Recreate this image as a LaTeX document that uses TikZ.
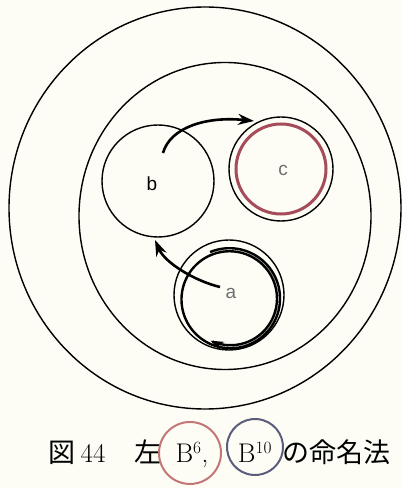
\documentclass[tikz,border=0pt]{standalone}
\usepackage{fontspec}
\setsansfont{Liberation Sans}
\newfontfamily\jpfont{Noto Sans CJK JP}
\usetikzlibrary{arrows.meta, shapes.geometric}

\definecolor{paper}{RGB}{253,253,246}
\definecolor{rosepen}{RGB}{165,75,90}
\definecolor{capred}{RGB}{195,118,118}
\definecolor{capblue}{RGB}{92,92,125}
\definecolor{lightlabel}{RGB}{110,110,110}

\begin{document}
\begin{tikzpicture}[x=1pt, y=1pt,
	ring/.style={draw, line width=1.4pt, inner sep=0pt},
	letter/.style={font=\sffamily\fontsize{19}{21}\selectfont, inner sep=0pt},
	thickarrow/.style={line width=2.6pt, -{Stealth[length=16pt, width=11pt]}},
	caption/.style={font=\fontsize{27}{30}\selectfont, inner sep=0pt, anchor=base}
]
	% Page
	\fill[paper] (0, 0) rectangle (402, 488);
	\useasboundingbox (0, 0) rectangle (402, 488);

	% Nested rings
	\node[ring, ellipse, minimum width=392, minimum height=402] (outer) at (205, 280) {};
	\node[ring, ellipse, minimum width=292, minimum height=307] (inner) at (225, 272) {};

	% Atoms a, b, c
	\node[ring, circle, minimum size=112] (b) at (158, 307) {};
	\node[ring, circle, minimum size=104] (c) at (281, 319) {};
	\node[ring, circle, minimum size=110] (a) at (229, 193) {};
	\draw[rosepen, line width=3pt] (c.center) circle[radius=45];

	\node[letter] (lb) at (152, 304) {b};
	\node[letter, text=lightlabel] (lc) at (283, 318) {c};
	\node[letter, text=lightlabel] (la) at (231, 195) {a};

	% Moves: b -> c and a -> b
	\coordinate (bc start) at (163, 335);
	\coordinate (bc end) at (254, 367);
	\coordinate (ab start) at (220, 201);
	\coordinate (ab end) at (155, 248);
	\draw[thickarrow] (bc start) .. controls (170, 360) and (205, 372) .. (bc end);
	\draw[thickarrow] (ab start) .. controls (195, 207) and (165, 225) .. (ab end);

	% Spin of a
	\draw[line width=2.4pt, -{Stealth[length=13pt, width=9pt]}]
		plot[domain=0:588, samples=150, smooth]
		({230 + (51 - 0.0085*\x)*cos(113 - \x)}, {189 + (51 - 0.0085*\x)*sin(113 - \x)});

	% Caption
	\node[caption] (fig) at (62, 25) {\jpfont 図};
	\node[caption] (num) at (93, 25) {44};
	\node[caption] (side) at (148, 25) {\jpfont 左};
	\node[caption] (bsix) at (192, 25) {B$^6$,};
	\node[caption] (bten) at (255, 25) {B$^{10}$};
	\node[caption] (rule) at (336, 25) {\jpfont の命名法};

	% Hand drawn marks round the isotopes
	\draw[capred, line width=2pt] ([shift={(255:31)}]190, 35) arc[start angle=255, end angle=-112, radius=31];
	\draw[capblue, line width=2pt] ([shift={(265:28)}]255, 41) arc[start angle=265, end angle=-100, radius=28];
\end{tikzpicture}
\end{document}
